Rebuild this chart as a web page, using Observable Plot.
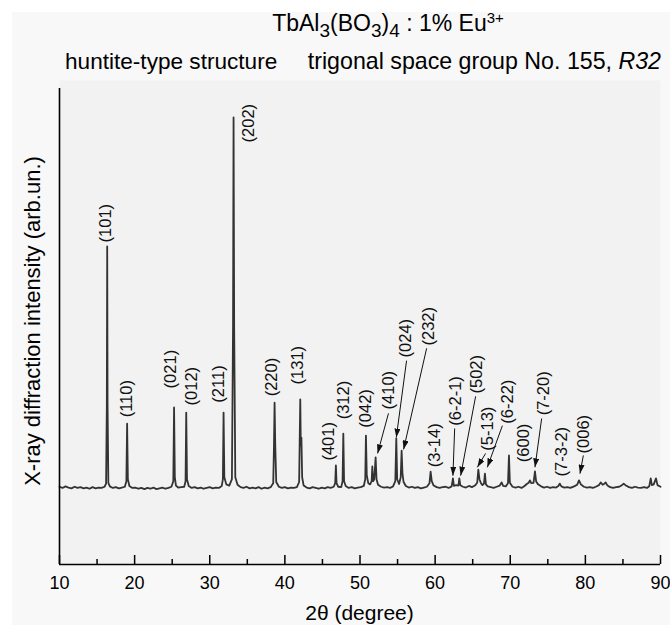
<!DOCTYPE html>
<html><head><meta charset="utf-8">
<script src="https://cdn.jsdelivr.net/npm/d3@7"></script>
<script src="https://cdn.jsdelivr.net/npm/@observablehq/plot@0.6"></script>
<style>
html,body{margin:0;padding:0;background:#fff;}
#wrap{position:relative;width:670px;height:625px;overflow:hidden;}
#panel{position:absolute;left:12px;top:12px;width:658px;height:613px;background:#f8f8f8;}
#chart{position:absolute;left:0;top:0;}
</style></head><body>
<div id="wrap"><div id="panel"></div><div id="chart"></div></div>
<script>
// ---- measured XRD trace (2θ in degrees, intensity in arb. units) ----
const traceTheta = [
10.0,10.4,10.8,11.2,11.6,12.0,12.4,12.8,13.2,13.6,14.0,14.4,14.8,15.2,15.6,16.0,16.2,16.3,16.35,16.4,16.5,16.7,
17.1,17.5,17.9,18.3,18.7,18.9,19.0,19.1,19.3,19.7,20.1,20.5,20.9,21.3,21.7,22.1,22.5,22.9,23.3,23.7,24.1,24.5,24.9,
25.15,25.25,25.35,25.5,25.8,26.2,26.6,26.78,26.87,26.97,27.2,27.6,28.0,28.4,28.8,29.2,29.6,30.0,30.4,30.8,31.2,31.6,
31.75,31.84,31.94,32.2,32.6,32.95,33.1,33.17,33.25,33.4,33.7,34.1,34.5,34.9,35.3,35.7,36.1,36.5,36.9,37.3,37.7,38.1,
38.45,38.55,38.63,38.72,38.85,39.2,39.6,40.0,40.4,40.8,41.2,41.6,41.9,42.0,42.05,42.12,42.2,42.3,42.5,42.9,43.3,43.7,
44.1,44.5,44.9,45.3,45.7,46.1,46.5,46.7,46.79,46.88,47.1,47.5,47.68,47.78,47.88,48.1,48.5,48.9,49.3,49.7,50.1,50.5,
50.7,50.79,50.9,51.1,51.35,51.55,51.64,51.75,51.9,52.08,52.2,52.4,52.8,53.2,53.6,54.0,54.4,54.7,54.83,54.95,55.2,
55.42,55.54,55.65,55.8,56.1,56.5,56.9,57.3,57.7,58.1,58.5,58.9,59.25,59.4,59.55,59.8,60.2,60.6,61.0,61.4,61.8,62.2,
62.37,62.5,62.8,63.1,63.22,63.35,63.7,64.1,64.5,64.9,65.3,65.6,65.75,65.9,66.1,66.3,66.5,66.63,66.76,67.0,67.4,67.8,
68.2,68.6,68.85,69.05,69.4,69.7,69.83,69.95,70.3,70.7,71.1,71.5,71.9,72.2,72.45,72.62,72.8,73.1,73.29,73.45,73.7,
74.1,74.5,74.9,75.3,75.7,76.1,76.4,76.58,76.8,77.2,77.6,78.0,78.5,78.9,79.15,79.4,79.8,80.2,80.6,81.0,81.4,81.8,
82.04,82.3,82.5,82.7,82.9,83.3,83.7,84.1,84.5,84.8,85.1,85.4,85.8,86.2,86.6,87.0,87.4,87.8,88.2,88.5,88.7,88.85,
89.1,89.4,89.6,90.0];
const traceIntensity = [
19.6,19.3,19.7,19.4,19.2,19.6,19.3,19.5,19.2,19.4,19.1,19.5,19.2,19.4,19.3,19.6,20.4,40,80.2,40,20.6,19.7,
19.3,19.5,19.2,19.4,19.6,21,35.5,21.5,19.8,19.3,19.4,19.1,19.3,19.0,19.3,19.1,19.4,19.0,19.2,19.4,19.1,19.3,19.6,
21,39.6,22,19.9,19.4,19.5,19.6,21,38.3,21.5,19.8,19.3,19.5,19.2,19.4,19.1,19.3,19.5,19.2,19.4,19.3,19.8,
21.5,38.3,22,20.2,19.9,21.5,60,112.7,60,22,20.1,19.5,19.3,19.6,19.2,19.4,19.2,19.5,19.1,19.4,19.2,19.5,
20.5,30,40.8,30,20.8,19.6,19.3,19.5,19.2,19.4,19.3,19.5,20.8,35,41.6,30,32.0,22,19.9,19.4,19.2,19.5,
19.3,19.1,19.4,19.2,19.5,19.3,19.6,20.5,25.0,20.5,19.6,19.5,21,33.0,21,19.8,19.3,19.5,19.2,19.4,19.5,19.8,
21.5,32.5,22.5,20.5,20.2,21,24.7,21,21.5,27.0,21.5,20.1,19.6,19.4,19.5,19.3,19.7,21,31.8,21.5,20.3,
22,28.7,23,20.8,19.8,19.4,19.6,19.3,19.5,19.2,19.4,19.6,20.5,23.4,21,19.9,19.5,19.3,19.5,19.6,19.3,19.7,
21.7,19.8,20.0,19.9,21.7,20.0,19.6,19.4,19.8,19.5,19.9,20.6,23.9,21.5,20.5,20.0,20.4,22.9,20.2,19.7,19.5,19.3,
19.6,19.9,20.7,19.8,19.7,20.5,27.5,20.6,19.6,19.4,19.6,19.3,19.8,20.3,20.6,21.2,20.5,20.6,23.5,20.9,20.2,
19.7,19.4,19.6,19.3,19.5,19.4,19.8,20.4,19.7,19.4,19.5,19.3,19.7,20.1,21.2,20.2,19.6,19.4,19.5,19.3,19.6,20.0,
20.7,20.1,20.3,20.7,20.0,19.5,19.3,19.5,19.6,19.9,20.4,19.9,19.5,19.3,19.6,19.4,19.3,19.5,19.3,19.7,21.7,20.0,
20.2,21.7,20.0,19.6];

// ---- Miller index labels: text, 2θ of label, intensity at label bottom ----
const hklText = ["(101)","(110)","(021)","(012)","(211)","(202)","(220)","(131)","(401)","(312)","(042)","(410)",
  "(024)","(232)","(3-14)","(6-2-1)","(502)","(5-13)","(6-22)","(600)","(7-20)","(7-3-2)","(006)"];
const hklTheta = [16.13,19.01,24.78,27.58,31.13,35.21,38.19,41.73,45.86,47.78,50.75,53.85,
  56.07,59.17,59.93,62.73,65.53,66.95,69.61,71.74,74.49,76.8,79.81];
const hklIntensity = [81.2,37.1,44.4,40.1,40.8,106.4,42.4,45.4,26.2,36.6,34.5,39.1,
  52.2,55.2,24.5,35.0,43.1,28.7,35.5,25.8,37.6,22.2,28.0];

// ---- pointer arrows from label to peak ----
const arrowFromTheta = [53.79,56.2,58.87,62.6,65.39,66.72,68.95,74.18,79.73];
const arrowFromI     = [38.1,51.4,54.5,34.3,42.4,28.0,35.0,36.8,27.5];
const arrowToTheta   = [52.34,54.83,55.8,62.37,63.4,65.62,66.95,73.29,79.28];
const arrowToI       = [28.0,32.0,29.0,22.4,22.4,24.5,24.5,24.5,22.9];

const xTicks = [10,20,30,40,50,60,70,80,90];
const xMinorTicks = [15,25,35,45,55,65,75,85];

// ---- build tables ----
const trace = traceTheta.map((t, i) => ({theta: t, I: traceIntensity[i]}));
const labels = hklText.map((s, i) => ({text: s, theta: hklTheta[i], I: hklIntensity[i]}));
const arrows = arrowFromTheta.map((t, i) => ({x1: t, y1: arrowFromI[i], x2: arrowToTheta[i], y2: arrowToI[i]}));

const W = 670, H = 625, mL = 59, mR = 10, mT = 88, mB = 61;
const frameH = H - mT - mB;
const font = "'Liberation Sans', Arial, Helvetica, sans-serif";

const chart = Plot.plot({
  width: W, height: H,
  marginLeft: mL, marginRight: mR, marginTop: mT, marginBottom: mB,
  style: {background: "transparent", fontFamily: font, color: "#000", overflow: "visible"},
  x: {domain: [10, 90], axis: null},
  y: {domain: [0, 120], axis: null},
  marks: [
    Plot.frame({fill: "#f2f2f2", stroke: "none", insetTop: -8}),
    Plot.line(trace, {x: "theta", y: "I", stroke: "#333", strokeWidth: 1.8, strokeLinejoin: "round"}),
    Plot.ruleX([10], {stroke: "#000", strokeWidth: 1.6}),
    Plot.ruleY([0], {stroke: "#000", strokeWidth: 1.6}),
    Plot.ruleX(xTicks, {stroke: "#000", strokeWidth: 1.5, insetTop: frameH - 9}),
    Plot.ruleX(xMinorTicks, {stroke: "#000", strokeWidth: 1.5, insetTop: frameH - 5}),
    Plot.axisX({ticks: xTicks, tickSize: 0, tickPadding: 12, fontSize: 18, label: null, tickFormat: d => String(d)}),
    Plot.text(labels, {x: "theta", y: "I", text: "text", rotate: -90, textAnchor: "start", fontSize: 16.5, fill: "#111"}),
    Plot.link(arrows, {x1: "x1", y1: "y1", x2: "x2", y2: "y2", stroke: "#111", strokeWidth: 1})
  ]
});
document.getElementById("chart").appendChild(chart);

// ---- filled arrow heads + titles and axis labels ----
const svg = d3.select(chart);
const defs = svg.insert("defs", ":first-child");
defs.append("marker")
  .attr("id", "tri").attr("viewBox", "0 0 10 10").attr("refX", 10).attr("refY", 5)
  .attr("markerWidth", 9).attr("markerHeight", 6).attr("markerUnits", "userSpaceOnUse")
  .attr("orient", "auto").attr("preserveAspectRatio", "none")
  .append("path").attr("d", "M0,0L10,5L0,10z").attr("fill", "#111");
svg.selectAll("g[aria-label=link] path, g[aria-label=link] line").attr("marker-end", "url(#tri)");

const t = svg.append("text").attr("x", 388).attr("y", 31).attr("text-anchor", "middle")
  .attr("font-size", 23).attr("font-family", font).attr("fill", "#000");
t.append("tspan").text("TbAl");
t.append("tspan").attr("dy", 6).attr("font-size", 19).text("3");
t.append("tspan").attr("dy", -6).text("(BO");
t.append("tspan").attr("dy", 6).attr("font-size", 19).text("3");
t.append("tspan").attr("dy", -6).text(")");
t.append("tspan").attr("dy", 6).attr("font-size", 19).text("4");
t.append("tspan").attr("dy", -6).text(" : 1% Eu");
t.append("tspan").attr("dy", -8).attr("font-size", 15).text("3+");

svg.append("text").attr("x", 65).attr("y", 69).attr("text-anchor", "start").attr("font-size", 22.6)
  .attr("font-family", font).attr("fill", "#000").text("huntite-type structure");
const s = svg.append("text").attr("x", 661).attr("y", 69).attr("text-anchor", "end").attr("font-size", 23.2)
  .attr("font-family", font).attr("fill", "#000");
s.append("tspan").text("trigonal space group No. 155, ");
s.append("tspan").attr("font-style", "italic").text("R32");

svg.append("text").attr("transform", "translate(32,321) rotate(-90)").attr("text-anchor", "middle")
  .attr("dy", "0.35em").attr("font-size", 22).attr("font-family", font).attr("fill", "#000")
  .text("X-ray diffraction intensity (arb.un.)");
svg.append("text").attr("x", 359.5).attr("y", 620).attr("text-anchor", "middle")
  .attr("font-size", 21).attr("font-family", font).attr("fill", "#000")
  .text("2θ (degree)");
</script>
</body></html>
